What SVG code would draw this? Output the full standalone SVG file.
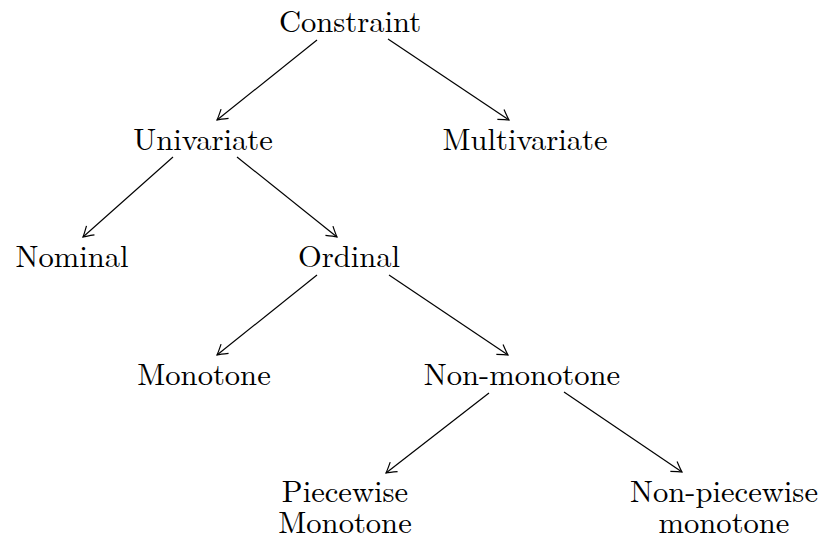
<svg xmlns="http://www.w3.org/2000/svg" width="822" height="542" viewBox="0 0 822 542">
<style>
text{font-family:"Latin Modern Roman","Liberation Serif",serif;font-size:30.6px;fill:#000;text-anchor:middle}
.e{stroke:#000;stroke-width:1.2;fill:none;marker-end:url(#ah)}
</style>
<defs>
<marker id="ah" markerUnits="userSpaceOnUse" markerWidth="20" markerHeight="20" refX="0" refY="0" viewBox="-12 -10 14 20" orient="auto" overflow="visible">
<path d="M-10,-6 Q-3,-1.5 0,0 Q-3,1.5 -10,6" fill="none" stroke="#000" stroke-width="1.2"/>
</marker>
</defs>
<rect width="822" height="542" fill="#fff"/>
<g id="connectors">
<line class="e" x1="317" y1="40" x2="217" y2="120"/>
<line class="e" x1="388" y1="39" x2="509" y2="120"/>
<line class="e" x1="173" y1="157" x2="83" y2="237"/>
<line class="e" x1="237" y1="157" x2="337" y2="237"/>
<line class="e" x1="317" y1="275" x2="217" y2="355"/>
<line class="e" x1="389" y1="275" x2="508" y2="355"/>
<line class="e" x1="489" y1="393" x2="386" y2="473"/>
<line class="e" x1="564" y1="392" x2="682" y2="472"/>
</g>
<g id="constraint"><text x="350" y="32">Constraint</text></g>
<g id="univariate"><text x="203" y="150">Univariate</text></g>
<g id="multivariate"><text x="525" y="150">Multivariate</text></g>
<g id="nominal"><text x="72" y="267">Nominal</text></g>
<g id="ordinal"><text x="349" y="267">Ordinal</text></g>
<g id="monotone"><text x="204" y="385">Monotone</text></g>
<g id="non-monotone"><text x="522" y="385">Non-monotone</text></g>
<g id="piecewise-monotone"><text x="345" y="502">Piecewise</text><text x="345" y="533">Monotone</text></g>
<g id="non-piecewise-monotone"><text x="724" y="502">Non-piecewise</text><text x="724" y="533">monotone</text></g>
</svg>
